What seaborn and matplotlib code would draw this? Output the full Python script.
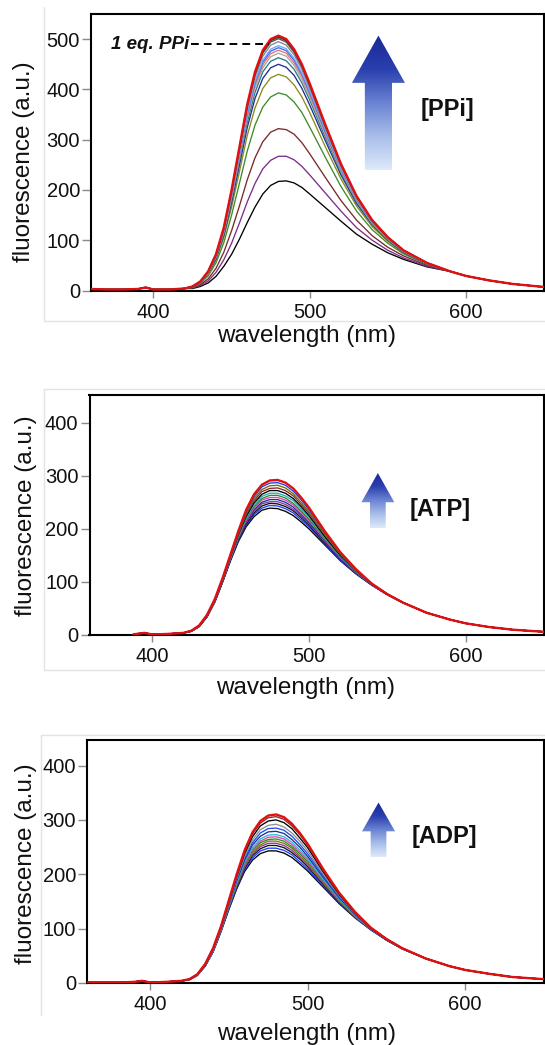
import numpy as np
import pandas as pd
import matplotlib
matplotlib.use("Agg")
import matplotlib.pyplot as plt
import matplotlib.colors as mcolors
import seaborn as sns
from matplotlib.patches import Polygon
from matplotlib.lines import Line2D
from matplotlib.colors import LinearSegmentedColormap

# ---------------- data ----------------
body_wl = [425, 430, 435, 440, 445, 450, 455, 460, 465, 470, 475, 480,
           485, 490, 495, 500, 510, 520, 530, 540, 550, 560, 575]
tail_wl = [590, 600, 615, 630, 650]

# PPi titration
ppi_head_wl = [360, 370, 380, 390, 395, 400, 410, 420]
ppi_head = [3, 2, 2, 3, 6, 2, 2, 4]
ppi_tail = [38, 29, 20, 13, 7]
ppi_names = ["p00", "p01", "p02", "p03", "p04", "p05", "p06", "p07",
             "p08", "p09", "p10", "p11", "p12", "p13", "p14"]
ppi_colors = ["#000000", "#7b2d8e", "#7a2a2a", "#3d8b2a", "#8c8a1e",
              "#1f2f8f", "#2e7d7d", "#a8a8a8", "#f07070", "#3a6cf0",
              "#6fa8ff", "#888888", "#505050", "#303030", "#e01010"]
ppi_p00 = [4, 8, 15, 28, 48, 72, 102, 135, 166, 192, 209, 217, 218, 214, 205, 192, 165, 138, 112, 92, 75, 62, 47]
ppi_p01 = [5, 10, 19, 36, 61, 94, 134, 176, 213, 242, 259, 267, 267, 260, 247, 230, 194, 158, 125, 100, 80, 65, 48]
ppi_p02 = [6, 12, 23, 44, 76, 119, 168, 220, 264, 296, 315, 322, 320, 311, 294, 272, 225, 179, 140, 109, 86, 69, 50]
ppi_p03 = [6, 14, 29, 55, 95, 150, 213, 277, 329, 365, 385, 393, 389, 375, 354, 325, 265, 207, 158, 121, 94, 73, 52]
ppi_p04 = [7, 15, 32, 60, 105, 166, 236, 308, 363, 402, 423, 430, 425, 409, 385, 354, 286, 222, 168, 127, 98, 75, 53]
ppi_p05 = [7, 16, 34, 63, 110, 175, 249, 324, 382, 422, 443, 450, 444, 428, 402, 369, 298, 230, 173, 131, 100, 76, 53]
ppi_p06 = [7, 17, 35, 65, 113, 181, 257, 334, 394, 435, 456, 463, 457, 440, 413, 379, 305, 235, 176, 133, 101, 77, 54]
ppi_p07 = [8, 17, 35, 67, 116, 185, 263, 342, 403, 443, 465, 472, 466, 448, 420, 385, 310, 238, 179, 134, 102, 78, 54]
ppi_p08 = [8, 17, 36, 68, 117, 187, 267, 347, 408, 449, 471, 478, 472, 453, 426, 390, 314, 241, 180, 135, 103, 78, 54]
ppi_p09 = [8, 17, 36, 68, 119, 189, 270, 351, 413, 454, 476, 483, 477, 458, 430, 394, 316, 243, 182, 136, 103, 79, 54]
ppi_p10 = [8, 17, 36, 69, 120, 191, 272, 354, 416, 458, 480, 487, 481, 462, 433, 397, 319, 244, 183, 137, 104, 79, 54]
ppi_p11 = [8, 18, 37, 70, 122, 195, 277, 360, 424, 466, 488, 495, 488, 469, 440, 403, 323, 247, 185, 138, 105, 79, 55]
ppi_p12 = [8, 18, 38, 71, 123, 197, 281, 365, 429, 472, 494, 501, 494, 474, 445, 407, 327, 250, 186, 139, 105, 80, 55]
ppi_p13 = [8, 18, 38, 72, 124, 199, 283, 368, 432, 475, 497, 504, 497, 477, 448, 410, 328, 251, 187, 140, 106, 80, 55]
ppi_p14 = [8, 18, 38, 72, 125, 200, 285, 370, 435, 478, 500, 507, 500, 480, 450, 412, 330, 252, 188, 140, 106, 80, 55]
ppi_bodies = [ppi_p00, ppi_p01, ppi_p02, ppi_p03, ppi_p04, ppi_p05, ppi_p06, ppi_p07,
              ppi_p08, ppi_p09, ppi_p10, ppi_p11, ppi_p12, ppi_p13, ppi_p14]

# ATP titration
atp_head_wl = [388, 390, 395, 400, 410, 420]
atp_head = [1, 2, 4, 1, 2, 4]
atp_tail = [29, 22, 15, 10, 6]
atp_names = ["a00", "a01", "a02", "a03", "a04", "a05", "a06", "a07",
             "a08", "a09", "a10", "a11", "a12"]
atp_colors = ["#000000", "#1f3fff", "#111111", "#8a3a9a", "#20308a",
              "#e040c0", "#2e8b2e", "#20b0c0", "#000000", "#8b2a2a",
              "#6e6e10", "#2040e0", "#e01010"]
atp_a00 = [7, 16, 34, 62, 100, 140, 176, 204, 223, 235, 239, 238, 233, 225, 213, 200, 170, 140, 115, 94, 76, 61, 42]
atp_a01 = [7, 16, 34, 63, 101, 141, 178, 207, 227, 239, 244, 243, 238, 230, 217, 204, 172, 141, 116, 94, 76, 61, 42]
atp_a02 = [7, 16, 35, 63, 101, 142, 179, 209, 230, 243, 248, 247, 242, 234, 221, 207, 174, 143, 117, 95, 76, 61, 42]
atp_a03 = [7, 16, 35, 63, 102, 143, 181, 212, 233, 247, 251, 251, 246, 237, 224, 210, 176, 144, 117, 95, 76, 61, 42]
atp_a04 = [7, 17, 35, 64, 102, 144, 182, 214, 236, 250, 255, 255, 250, 241, 227, 212, 178, 145, 118, 95, 76, 61, 42]
atp_a05 = [7, 17, 36, 64, 103, 145, 184, 216, 239, 254, 259, 259, 254, 245, 231, 216, 180, 146, 119, 95, 76, 61, 42]
atp_a06 = [7, 17, 36, 65, 104, 146, 185, 219, 242, 257, 263, 263, 258, 248, 234, 218, 182, 147, 119, 96, 77, 61, 42]
atp_a07 = [8, 17, 36, 65, 104, 146, 187, 221, 246, 261, 267, 267, 262, 253, 238, 222, 184, 149, 120, 96, 77, 61, 42]
atp_a08 = [8, 17, 37, 66, 105, 148, 189, 224, 249, 265, 272, 272, 267, 257, 242, 225, 186, 150, 121, 96, 77, 61, 42]
atp_a09 = [8, 17, 37, 66, 106, 149, 190, 227, 253, 270, 276, 277, 272, 262, 246, 229, 189, 152, 121, 96, 77, 61, 42]
atp_a10 = [8, 18, 37, 67, 106, 150, 192, 230, 257, 274, 281, 282, 277, 266, 250, 232, 191, 153, 122, 97, 77, 61, 42]
atp_a11 = [8, 18, 38, 67, 107, 151, 194, 233, 261, 279, 286, 287, 282, 271, 255, 236, 194, 155, 123, 97, 77, 61, 42]
atp_a12 = [8, 18, 38, 68, 108, 152, 196, 236, 265, 283, 291, 292, 287, 276, 259, 240, 196, 156, 124, 97, 77, 61, 42]
atp_bodies = [atp_a00, atp_a01, atp_a02, atp_a03, atp_a04, atp_a05, atp_a06,
              atp_a07, atp_a08, atp_a09, atp_a10, atp_a11, atp_a12]

# ADP titration
adp_head_wl = [360, 370, 380, 390, 395, 400, 410, 420]
adp_head = [1, 1, 1, 2, 4, 1, 2, 4]
adp_tail = [31, 24, 17, 11, 7]
adp_names = ["d00", "d01", "d02", "d03", "d04", "d05", "d06", "d07",
             "d08", "d09", "d10", "d11", "d12", "d13"]
adp_colors = ["#000000", "#1f3fff", "#111111", "#8a3a9a", "#7a7a10",
              "#2e8b2e", "#e040c0", "#20c0d0", "#20308a", "#2050f0",
              "#909090", "#000000", "#8b2a2a", "#e01010"]
adp_d00 = [6, 14, 31, 57, 94, 135, 173, 205, 226, 238, 243, 243, 239, 231, 219, 206, 176, 146, 120, 98, 79, 63, 45]
adp_d01 = [6, 14, 31, 58, 95, 136, 175, 208, 230, 243, 248, 248, 244, 236, 223, 210, 178, 148, 121, 98, 79, 63, 45]
adp_d02 = [6, 14, 32, 58, 96, 138, 177, 211, 234, 247, 253, 253, 249, 240, 228, 214, 181, 149, 122, 99, 79, 63, 45]
adp_d03 = [6, 14, 32, 58, 96, 139, 179, 213, 237, 251, 257, 257, 253, 244, 231, 217, 183, 150, 122, 99, 80, 63, 45]
adp_d04 = [6, 15, 32, 59, 97, 140, 180, 216, 240, 254, 261, 261, 257, 248, 234, 220, 185, 151, 123, 99, 80, 63, 45]
adp_d05 = [6, 15, 32, 59, 97, 141, 182, 218, 243, 258, 264, 265, 261, 251, 238, 223, 187, 153, 124, 100, 80, 63, 45]
adp_d06 = [6, 15, 33, 60, 98, 142, 184, 220, 246, 261, 268, 269, 265, 255, 241, 226, 189, 154, 124, 100, 80, 63, 45]
adp_d07 = [6, 15, 33, 60, 99, 143, 185, 223, 249, 265, 272, 273, 269, 259, 245, 229, 191, 155, 125, 100, 80, 64, 45]
adp_d08 = [7, 15, 33, 61, 99, 144, 188, 226, 254, 270, 278, 279, 275, 264, 250, 233, 194, 157, 126, 100, 80, 64, 45]
adp_d09 = [7, 15, 34, 61, 100, 146, 190, 230, 258, 276, 284, 285, 281, 270, 255, 238, 197, 159, 127, 101, 81, 64, 45]
adp_d10 = [7, 15, 34, 62, 101, 147, 193, 233, 263, 282, 290, 292, 287, 276, 261, 243, 200, 161, 128, 101, 81, 64, 45]
adp_d11 = [7, 16, 34, 63, 103, 149, 196, 238, 269, 289, 298, 300, 295, 284, 267, 249, 204, 163, 129, 101, 81, 64, 45]
adp_d12 = [7, 16, 35, 64, 103, 151, 198, 242, 274, 294, 304, 306, 301, 289, 273, 253, 207, 165, 130, 102, 81, 64, 45]
adp_d13 = [7, 16, 35, 64, 104, 152, 200, 244, 277, 298, 308, 310, 305, 293, 276, 256, 209, 166, 131, 102, 81, 64, 45]
adp_bodies = [adp_d00, adp_d01, adp_d02, adp_d03, adp_d04, adp_d05, adp_d06,
              adp_d07, adp_d08, adp_d09, adp_d10, adp_d11, adp_d12, adp_d13]

x_ticks = [400, 500, 600]
ppi_yticks = [0, 100, 200, 300, 400, 500]
other_yticks = [0, 100, 200, 300, 400]

# ---------------- styling ----------------
sns.set_style("ticks")
FONT = ["Liberation Sans", "DejaVu Sans"]
plt.rcParams["font.family"] = FONT
plt.rcParams["axes.edgecolor"] = "black"

W, H = 545, 1045
fig = plt.figure(figsize=(W / 100, H / 100), dpi=100)
fig.patch.set_facecolor("white")


def px_axes(left, top, right, bottom):
    return fig.add_axes([left / W, 1 - bottom / H, (right - left) / W, (bottom - top) / H])


def long_df(head_wl, head, bodies, tail, names):
    rows = []
    wl = list(head_wl) + body_wl + tail_wl
    for name, body in zip(names, bodies):
        vals = list(head) + list(body) + list(tail)
        for w, v in zip(wl, vals):
            rows.append((name, w, v))
    return pd.DataFrame(rows, columns=["curve", "wavelength", "fluorescence"])


cmap = LinearSegmentedColormap.from_list(
    "arr", ["#dde9fb", "#a9bde9", "#6a83d2", "#2a3fae", "#1a2896"])


def gradient_arrow(ax, xc, shaft_hw, head_hw, y_bot, y_head, y_tip):
    verts = [(xc - shaft_hw, y_bot), (xc + shaft_hw, y_bot), (xc + shaft_hw, y_head),
             (xc + head_hw, y_head), (xc, y_tip), (xc - head_hw, y_head),
             (xc - shaft_hw, y_head)]
    poly = Polygon(verts, closed=True, facecolor="none", edgecolor="none")
    ax.add_patch(poly)
    grad = np.linspace(0, 1, 256).reshape(-1, 1)
    im = ax.imshow(grad, cmap=cmap, origin="lower", aspect="auto",
                   extent=[xc - head_hw, xc + head_hw, y_bot, y_tip], zorder=6)
    im.set_clip_path(poly)


def style_axes(ax, yticks, ylim, xlab_xy, ylab_xy):
    ax.set_xlim(360, 650)
    ax.set_ylim(*ylim)
    ax.set_xticks(x_ticks)
    ax.set_yticks(yticks)
    for s in ax.spines.values():
        s.set_visible(True)
        s.set_color("black")
        s.set_linewidth(1.5)
    ax.tick_params(axis="x", length=5, width=1, color="#8a8a8a", pad=4,
                   labelsize=14.5, labelcolor="#111111")
    ax.tick_params(axis="y", length=6.5, width=1, color="#8a8a8a", pad=1.5,
                   labelsize=14.5, labelcolor="#111111")
    ax.set_xlabel("wavelength (nm)", fontsize=17.5, color="#111111", va="center")
    ax.set_ylabel("fluorescence (a.u.)", fontsize=17.5, color="#111111", va="center")
    ax.xaxis.set_label_coords(*xlab_xy)
    ax.yaxis.set_label_coords(*ylab_xy)


def draw_panel(ax, df, names, colors):
    sns.lineplot(data=df, x="wavelength", y="fluorescence", hue="curve",
                 hue_order=names, palette=dict(zip(names, colors)),
                 estimator=None, sort=False, legend=False, linewidth=0.95, ax=ax)
    for ln in ax.lines:
        if mcolors.to_hex(ln.get_color()) == "#e01010":
            ln.set_linewidth(1.7)
            ln.set_zorder(4)


# gray page-frame lines behind panels
def gline(x0, y0, x1, y1):
    fig.add_artist(Line2D([x0 / W, x1 / W], [1 - y0 / H, 1 - y1 / H],
                          color="#e3e3e3", lw=1.0, transform=fig.transFigure))


gline(44, 7, 44, 321)
gline(44, 321, 545, 321)
gline(44, 389, 545, 389)
gline(44, 389, 44, 670)
gline(44, 670, 545, 670)
gline(41, 735, 545, 735)
gline(41, 735, 41, 1015)

# ---- panel 1 : PPi ----
ax1 = px_axes(91, 14, 544, 290.5)
draw_panel(ax1, long_df(ppi_head_wl, ppi_head, ppi_bodies, ppi_tail, ppi_names),
           ppi_names, ppi_colors)
style_axes(ax1, ppi_yticks, (0, 550), (0.475, -0.165), (-0.147, 0.465))
ax1.plot([424, 474], [490, 490], color="black", lw=1.4, ls=(0, (4, 2.6)), zorder=7)
ax1.text(423, 490, "1 eq. PPi", ha="right", va="center", fontsize=13.5,
         fontweight="bold", fontstyle="italic", color="#111111")
gradient_arrow(ax1, 544, 8.7, 17, 240, 413, 507)
ax1.text(588, 360, "[PPi]", ha="center", va="center", fontsize=17,
         fontweight="bold", color="#111111")
ax1.set_xlim(360, 650)
ax1.set_ylim(0, 550)

# ---- panel 2 : ATP ----
ax2 = px_axes(89.5, 395, 544, 635)
draw_panel(ax2, long_df(atp_head_wl, atp_head, atp_bodies, atp_tail, atp_names),
           atp_names, atp_colors)
style_axes(ax2, other_yticks, (0, 452), (0.476, -0.219), (-0.139, 0.497))
gradient_arrow(ax2, 544, 5, 10.5, 201, 250, 305)
ax2.text(584, 237, "[ATP]", ha="center", va="center", fontsize=17,
         fontweight="bold", color="#111111")
ax2.set_xlim(360, 650)
ax2.set_ylim(0, 452)

# ---- panel 3 : ADP ----
ax3 = px_axes(87, 740, 544, 983)
draw_panel(ax3, long_df(adp_head_wl, adp_head, adp_bodies, adp_tail, adp_names),
           adp_names, adp_colors)
style_axes(ax3, other_yticks, (0, 447), (0.48, -0.21), (-0.133, 0.493))
gradient_arrow(ax3, 545, 5, 10.5, 232, 279, 332)
ax3.text(587, 269, "[ADP]", ha="center", va="center", fontsize=17,
         fontweight="bold", color="#111111")
ax3.set_xlim(360, 650)
ax3.set_ylim(0, 447)

fig.savefig("out.png", dpi=100, facecolor="white")
